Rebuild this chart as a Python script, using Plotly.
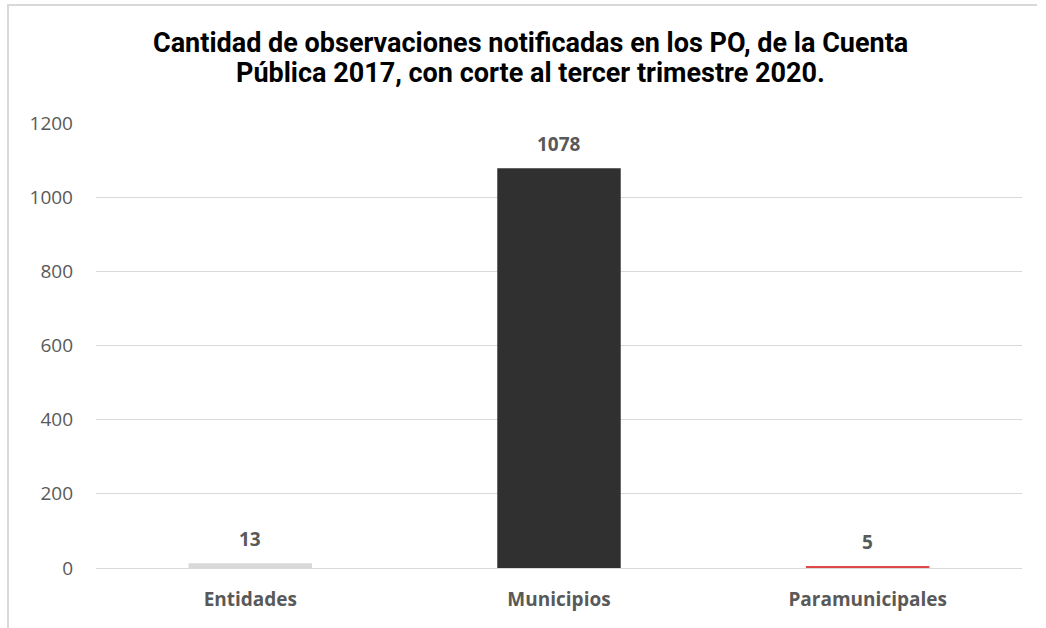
import plotly.graph_objects as go

categories = ["Entidades", "Municipios", "Paramunicipales"]
values = [13, 1078, 5]
bar_colors = ["#d9d9d9", "#303030", "#e04848"]
y_ticks = [0, 200, 400, 600, 800, 1000, 1200]
title_lines = ["Cantidad de observaciones notificadas en los PO, de la Cuenta",
               "Pública 2017, con corte al tercer trimestre 2020."]

W, H = 1046, 628
L, R, T, B = 96, 24, 123, 60
pw, ph = W - L - R, H - T - B

def px_x(x):
    return (x - L) / pw

def px_y(y):
    return (H - B - y) / ph

fig = go.Figure()
fig.add_trace(go.Bar(
    x=categories, y=values,
    marker=dict(color=bar_colors, line=dict(width=0)),
    hoverinfo="x+y",
))

for c, v in zip(categories, values):
    fig.add_annotation(
        x=c, y=v, xref="x", yref="y", text=f"<b>{v}</b>", showarrow=False,
        yanchor="bottom", yshift=9,
        font=dict(family="Open Sans", size=19, color="#595959"),
    )

for line, ypx in zip(title_lines, [43, 73]):
    fig.add_annotation(
        x=px_x(530), y=px_y(ypx), xref="paper", yref="paper",
        text=f"<b>{line}</b>", showarrow=False,
        xanchor="center", yanchor="middle",
        font=dict(family="Roboto", size=27, color="#000000"),
    )

line_color = "#d9d9d9"
fig.add_shape(type="line", xref="paper", yref="paper",
              x0=px_x(7), x1=px_x(1037), y0=px_y(5), y1=px_y(5),
              line=dict(color=line_color, width=2), layer="below")
fig.add_shape(type="line", xref="paper", yref="paper",
              x0=px_x(8), x1=px_x(8), y0=px_y(5), y1=px_y(650),
              line=dict(color=line_color, width=2), layer="below")

fig.update_layout(
    width=W, height=H,
    margin=dict(l=L, r=R, t=T, b=B, pad=0),
    paper_bgcolor="white", plot_bgcolor="white",
    bargap=0.6,
    showlegend=False,
    xaxis=dict(
        showgrid=False, showline=False, zeroline=False, ticks="",
        tickfont=dict(family="Open Sans", size=19, color="#595959", weight="bold"),
        ticklabelstandoff=18,
    ),
    yaxis=dict(
        range=[0, 1200], tickvals=y_ticks, ticktext=[str(t) for t in y_ticks],
        showgrid=True, gridcolor=line_color, gridwidth=1,
        zeroline=True, zerolinecolor=line_color, zerolinewidth=1,
        showline=False, ticks="",
        tickfont=dict(family="Open Sans", size=19, color="#595959"),
        ticklabelstandoff=22,
    ),
)

fig.write_html("out.html", config={"displayModeBar": False},
               post_script="document.body.style.margin='0';document.body.style.overflow='hidden';")
